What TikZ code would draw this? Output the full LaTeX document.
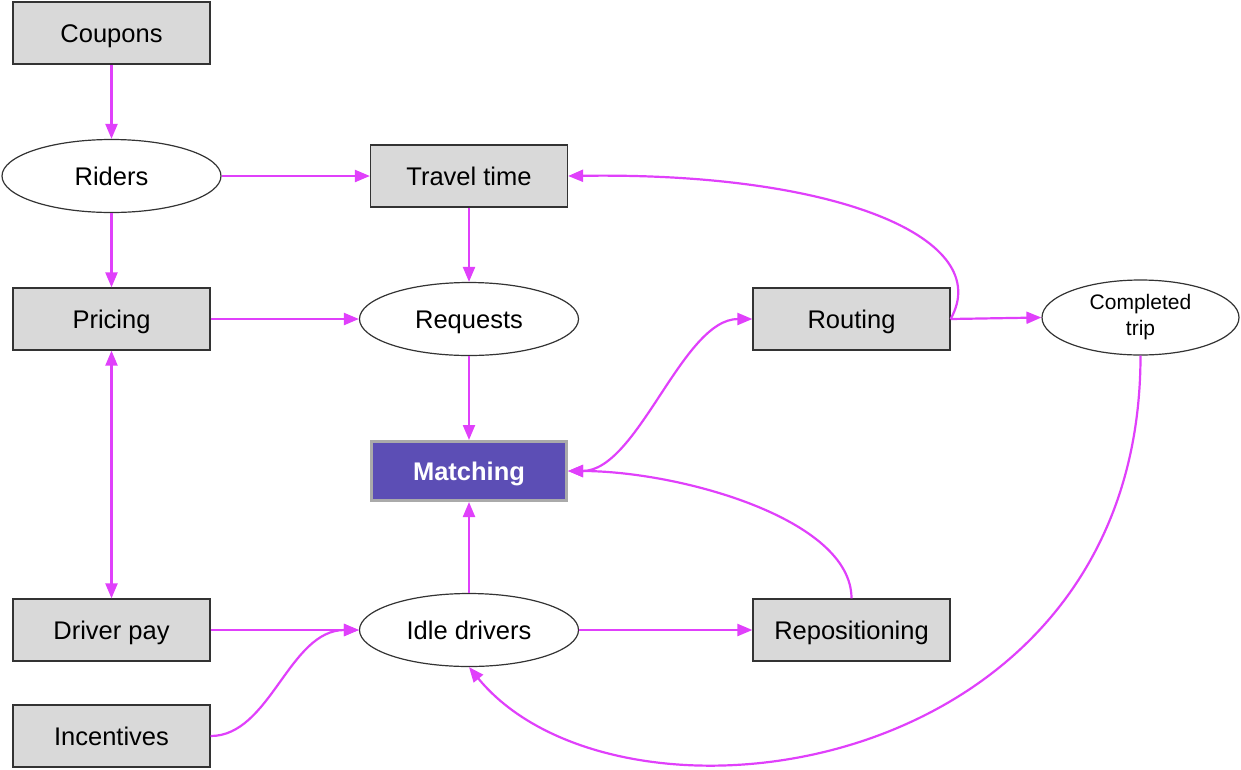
\documentclass[tikz,border=0pt]{standalone}
\usepackage{fontspec}
\setmainfont{Liberation Sans}
\usetikzlibrary{arrows.meta,shapes.geometric}
\definecolor{mag}{HTML}{E040FB}
\definecolor{boxgray}{HTML}{D9D9D9}
\definecolor{purp}{HTML}{5C4EB5}
\definecolor{edgegray}{HTML}{AAAAAA}
\begin{document}
\begin{tikzpicture}[x=1pt,y=-1pt,
  lbl/.style={font=\fontsize{25.5}{30}\selectfont, text height=18pt, text depth=0pt},
  box/.style={lbl, draw=black!80, line width=1.2pt, fill=boxgray, minimum width=197pt, minimum height=62pt, inner sep=0pt},
  oval/.style={lbl, ellipse, draw=black!80, line width=1.2pt, fill=white, minimum width=219pt, minimum height=73pt, inner sep=0pt},
  conn/.style={draw=mag, line width=2.2pt, -{Triangle[length=15pt,width=12pt]}},
  bconn/.style={draw=mag, line width=2.2pt, {Triangle[length=15pt,width=12pt]}-{Triangle[length=15pt,width=12pt]}}]
\useasboundingbox (0,0) rectangle (1241,769);
\node[box] (coupons) at (111.5,33) {Coupons};
\node[oval] (riders) at (111.5,176) {Riders};
\node[box] (travel) at (469,176) {Travel time};
\node[box] (pricing) at (111.5,319) {Pricing};
\node[oval] (requests) at (469,319) {Requests};
\node[box] (routing) at (851.5,319) {Routing};
\node[ellipse, draw=black!80, line width=1.2pt, fill=white, minimum width=197pt, minimum height=75pt, inner sep=0pt, align=center, font=\fontsize{21}{26}\selectfont] (completed) at (1140.5,317.5) {Completed\\trip};
\node[lbl, draw=edgegray, line width=3pt, fill=purp, text=white, minimum width=195pt, minimum height=59pt, inner sep=0pt, font=\fontsize{25.5}{30}\selectfont\bfseries] (matching) at (469,471) {Matching};
\node[box] (driverpay) at (111.5,630) {Driver pay};
\node[oval] (idle) at (469,630) {Idle drivers};
\node[box] (repo) at (851.5,630) {Repositioning};
\node[box] (incentives) at (111.5,736) {Incentives};

\draw[conn] (coupons) -- (riders);
\draw[conn] (riders) -- (travel);
\draw[conn] (riders) -- (pricing);
\draw[conn] (travel) -- (requests);
\draw[conn] (pricing) -- (requests);
\draw[conn] (requests) -- (matching);
\draw[bconn] (pricing) -- (driverpay);
\draw[conn] (driverpay) -- (idle);
\draw[conn] (incentives.east) .. controls +(60,0) and +(-70,0) .. (idle.west);
\draw[conn] (idle) -- (matching);
\draw[conn] (idle) -- (repo);
\draw[conn] (repo.north) .. controls +(0,-80) and +(110,0) .. (matching.east);
\draw[bconn] (matching.east) .. controls +(70,0) and +(-70,0) .. (routing.west);
\draw[conn] (routing.east) -- (completed.west);
\draw[conn] (routing.east) .. controls +(45,-80) and +(270,-4) .. (travel.east);
\draw[conn] (completed.south) .. controls +(0,426) and +(150,183) .. (idle.south);
\end{tikzpicture}
\end{document}
